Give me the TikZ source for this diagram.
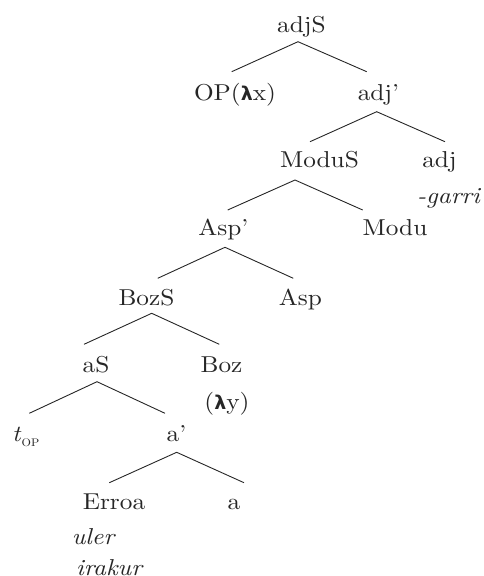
\documentclass[tikz,border=0pt]{standalone}
\usepackage{fontspec}
\setmainfont{lmroman10-regular.otf}[ItalicFont=lmroman10-italic.otf]
\newfontfamily\lamfont{DejaVu Sans}
\newcommand{\lam}{{\lamfont\bfseries\fontsize{19}{19}\selectfont λ}}
\begin{document}
\begin{tikzpicture}[x=1pt,y=-1pt,
  lbl/.style={inner sep=0pt, anchor=base, text=black!85,
    font=\fontsize{23}{26}\selectfont\addfontfeatures{FakeStretch=1.1}},
  itlbl/.style={lbl, font=\fontsize{23}{26}\selectfont\itshape\addfontfeatures{FakeStretch=1.1}},
  br/.style={line width=0.9pt, draw=black!85}]
\useasboundingbox (0,0) rectangle (484,576);

% labels
\node[lbl] (adjS) at (301.5,32) {adjS};
\node[lbl] (OP) at (235,100) {OP(\lam x)};
\node[lbl] (adjb) at (378.5,100) {adj’};
\node[lbl] (ModuS) at (319.5,167.7) {ModuS};
\node[lbl] (adj) at (439.5,167.7) {adj};
\node[itlbl] (garri) at (448.5,203) {-garri};
\node[lbl] (Aspb) at (223.5,235) {Asp’};
\node[lbl] (Modu) at (395,235) {Modu};
\node[lbl] (BozS) at (146.5,305) {BozS};
\node[lbl] (Asp) at (300.5,305) {Asp};
\node[lbl] (aS) at (96,372.7) {aS};
\node[lbl] (Boz) at (221.5,372.7) {Boz};
\node[lbl] (lamy) at (227,409) {(\lam y)};
\node[lbl, anchor=base west] (tOP) at (12,441.7) {\textit{t}\raisebox{-5pt}{\fontsize{11}{11}\selectfont OP}};
\node[lbl] (ab) at (176.5,441.7) {a’};
\node[lbl] (Erroa) at (114,509) {Erroa};
\node[lbl] (a) at (234,509) {a};
\node[itlbl] (uler) at (93,544) {uler};
\node[itlbl] (irakur) at (109,575) {irakur};

% branch points
\coordinate (t1) at (298,41.7);  \coordinate (l1) at (231.7,71.7); \coordinate (r1) at (366.7,71.7);
\coordinate (t2) at (376.7,111.7); \coordinate (l2) at (310,141.7); \coordinate (r2) at (445,141.7);
\coordinate (t3) at (295,180);   \coordinate (l3) at (227.7,210); \coordinate (r3) at (362.7,210);
\coordinate (t4) at (225,247.3); \coordinate (l4) at (157.7,278.3); \coordinate (r4) at (293.3,278.3);
\coordinate (t5) at (151.7,313.3); \coordinate (l5) at (84,344.3); \coordinate (r5) at (219.3,344.3);
\coordinate (t6) at (97,381.7);  \coordinate (l6) at (29.3,413.3); \coordinate (r6) at (165,413.3);
\coordinate (t7) at (176.7,452.3); \coordinate (l7) at (109.3,482.7); \coordinate (r7) at (244,482.7);

\foreach \i in {1,...,7} {
  \draw[br] (l\i) -- (t\i) -- (r\i);
}
\end{tikzpicture}
\end{document}
